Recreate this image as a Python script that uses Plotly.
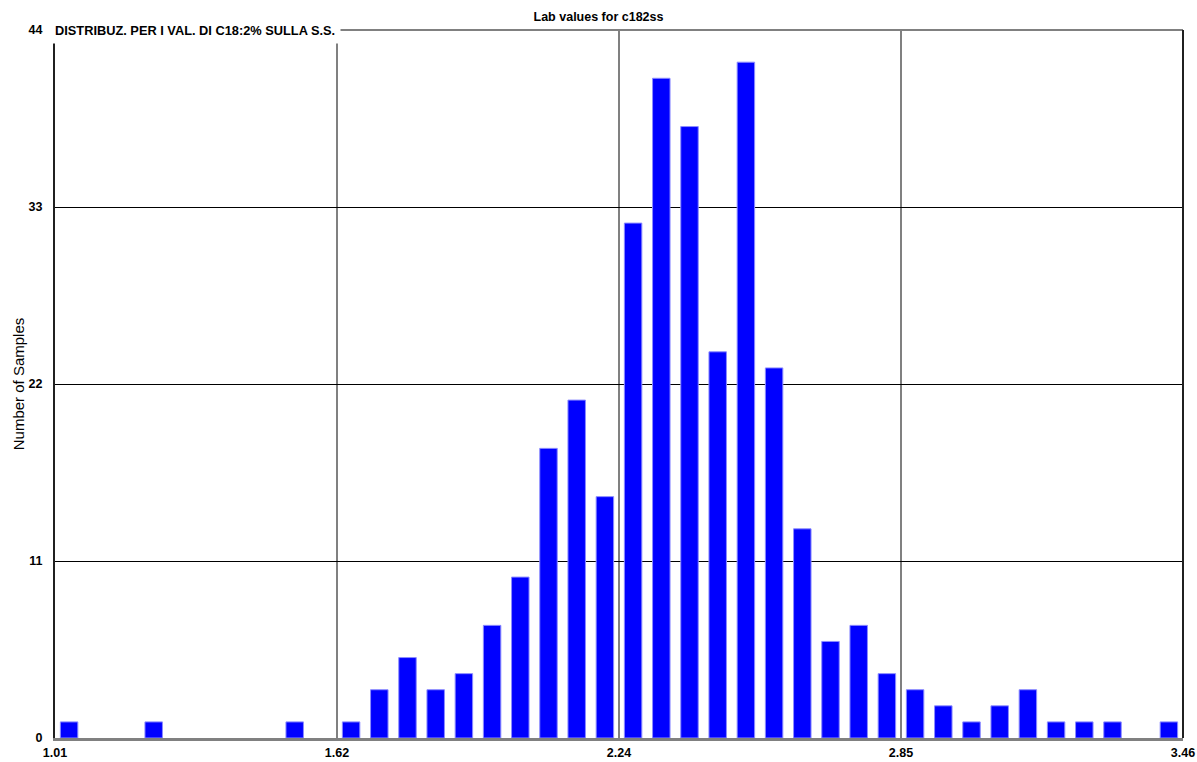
import plotly.graph_objects as go

# Data
x_min, x_max = 1.01, 3.46
n_bins = 40
counts = [1, 0, 0, 1, 0, 0, 0, 0, 1, 0,
          1, 3, 5, 3, 4, 7, 10, 18, 21, 15,
          32, 41, 38, 24, 42, 23, 13, 6, 7, 4,
          3, 2, 1, 2, 3, 1, 1, 1, 0, 1]
x_tick_labels = ["1.01", "1.62", "2.24", "2.85", "3.46"]
y_ticks = [0, 11, 22, 33, 44]
title_text = "Lab values for c182ss"
subtitle_text = "DISTRIBUZ. PER I VAL. DI C18:2% SULLA S.S."
y_title = "Number of Samples"

bin_w = (x_max - x_min) / n_bins
centers = [x_min + (i + 0.5) * bin_w for i in range(n_bins)]
x_tickvals = [x_min + k * (x_max - x_min) / 4 for k in range(5)]
edge_widths = [1 if c > 0 else 0 for c in counts]

font_family = "Liberation Sans, Arial, sans-serif"
tick_font = dict(family=font_family, size=12.5, color="black", weight="bold")

fig = go.Figure(go.Bar(
    x=centers, y=counts, width=bin_w * 0.62,
    marker=dict(color="#0000ff", line=dict(color="#8c8cff", width=edge_widths)),
    hoverinfo="x+y",
))

fig.update_layout(
    width=1197, height=762,
    margin=dict(l=55, r=14, t=30, b=24, autoexpand=False),
    paper_bgcolor="white", plot_bgcolor="white",
    showlegend=False,
    font=dict(family=font_family, size=12, color="black"),
    title=dict(text=title_text, xref="container", x=0.5, xanchor="center",
               yref="container", y=1 - 17 / 762, yanchor="middle",
               font=dict(family=font_family, size=12.5, color="black", weight="bold")),
    xaxis=dict(
        range=[x_min, x_max], tickvals=x_tickvals, ticktext=x_tick_labels,
        showgrid=True, gridcolor="#808080", gridwidth=2,
        showline=True, linecolor="#808080", linewidth=3,
        ticks="", zeroline=False, automargin=False,
        tickfont=tick_font,
        ticklabelstandoff=1,
    ),
    yaxis=dict(
        range=[0, 44], tickvals=y_ticks,
        showgrid=True, gridcolor="black", gridwidth=1,
        showline=True, linecolor="#202020", linewidth=2,
        ticks="", zeroline=False, automargin=False,
        tickfont=tick_font,
        ticklabelstandoff=8,
        title=dict(text=y_title, font=dict(family=font_family, size=15, color="black"), standoff=0),
    ),
    shapes=[
        dict(type="line", xref="paper", yref="paper", x0=0, x1=1, y0=1, y1=1,
             line=dict(color="#808080", width=2)),
        dict(type="line", xref="paper", yref="paper", x0=1, x1=1, y0=0, y1=1,
             line=dict(color="#202020", width=2)),
    ],
    annotations=[
        dict(text=subtitle_text, xref="paper", yref="paper", x=0, y=1, xshift=-6,
             showarrow=False, xanchor="left", yanchor="middle",
             bgcolor="white", borderpad=5,
             font=dict(family=font_family, size=12.8, color="black", weight="bold")),
    ],
)

fig.write_html(
    "out.html",
    config={"displayModeBar": False},
    post_script="document.body.style.margin='0px';document.documentElement.style.overflow='hidden';",
)
